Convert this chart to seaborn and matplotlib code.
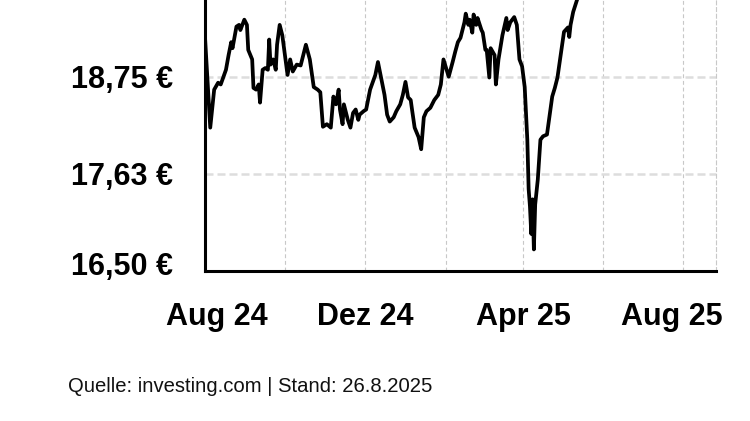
import pandas as pd
import seaborn as sns
import matplotlib.pyplot as plt
import matplotlib.transforms as mtransforms

# price history (EUR)
dates = [
    "2024-08-01", "2024-08-05", "2024-08-08", "2024-08-11", "2024-08-13", "2024-08-17",
    "2024-08-19", "2024-08-21", "2024-08-22", "2024-08-25", "2024-08-27", "2024-08-28",
    "2024-08-31", "2024-09-02", "2024-09-03", "2024-09-06", "2024-09-07", "2024-09-09",
    "2024-09-11", "2024-09-12", "2024-09-14", "2024-09-16", "2024-09-18", "2024-09-19",
    "2024-09-20", "2024-09-22", "2024-09-24", "2024-09-25", "2024-09-27", "2024-09-29",
    "2024-10-01", "2024-10-03", "2024-10-05", "2024-10-07", "2024-10-10", "2024-10-13",
    "2024-10-17", "2024-10-20", "2024-10-23", "2024-10-26", "2024-10-28", "2024-10-30",
    "2024-11-02", "2024-11-05", "2024-11-07", "2024-11-09", "2024-11-11", "2024-11-12",
    "2024-11-14", "2024-11-15", "2024-11-17", "2024-11-18", "2024-11-20", "2024-11-22",
    "2024-11-24", "2024-11-26", "2024-11-27", "2024-11-30", "2024-12-02", "2024-12-05",
    "2024-12-09", "2024-12-11", "2024-12-14", "2024-12-16", "2024-12-18", "2024-12-20",
    "2024-12-23", "2024-12-25", "2024-12-28", "2024-12-30", "2025-01-01", "2025-01-03",
    "2025-01-05", "2025-01-06", "2025-01-08", "2025-01-11", "2025-01-13", "2025-01-15",
    "2025-01-17", "2025-01-20", "2025-01-23", "2025-01-26", "2025-01-28", "2025-01-30",
    "2025-02-01", "2025-02-03", "2025-02-06", "2025-02-08", "2025-02-10", "2025-02-12",
    "2025-02-15", "2025-02-16", "2025-02-18", "2025-02-19", "2025-02-21", "2025-02-22",
    "2025-02-24", "2025-02-25", "2025-02-28", "2025-03-01", "2025-03-03", "2025-03-04",
    "2025-03-06", "2025-03-07", "2025-03-10", "2025-03-11", "2025-03-13", "2025-03-16",
    "2025-03-19", "2025-03-20", "2025-03-22", "2025-03-25", "2025-03-27", "2025-03-29",
    "2025-03-31", "2025-04-02", "2025-04-04", "2025-04-05", "2025-04-06", "2025-04-07",
    "2025-04-08", "2025-04-09", "2025-04-10", "2025-04-12", "2025-04-14", "2025-04-16",
    "2025-04-19", "2025-04-23", "2025-04-25", "2025-04-27", "2025-04-30", "2025-05-02",
    "2025-05-05", "2025-05-06", "2025-05-07", "2025-05-09", "2025-05-12", "2025-05-16",
    "2025-06-02", "2025-07-01", "2025-08-01", "2025-08-26",
]
prices = [
    19.21, 18.16, 18.60, 18.68, 18.66, 18.83,
    19.00, 19.15, 19.08, 19.33, 19.35, 19.29,
    19.41, 19.35, 19.06, 18.95, 18.62, 18.60,
    18.66, 18.45, 18.83, 18.85, 18.83, 19.18,
    18.89, 18.95, 18.83, 19.12, 19.35, 19.23,
    19.00, 18.77, 18.95, 18.81, 18.89, 18.88,
    19.12, 18.95, 18.63, 18.60, 18.57, 18.17,
    18.20, 18.16, 18.52, 18.43, 18.60, 18.37,
    18.20, 18.43, 18.31, 18.25, 18.16, 18.33,
    18.37, 18.25, 18.31, 18.35, 18.37, 18.60,
    18.77, 18.92, 18.69, 18.54, 18.31, 18.23,
    18.28, 18.35, 18.43, 18.54, 18.69, 18.51,
    18.48, 18.37, 18.16, 18.05, 17.91, 18.28,
    18.35, 18.39, 18.48, 18.54, 18.66, 18.95,
    18.85, 18.75, 18.92, 19.04, 19.15, 19.20,
    19.38, 19.48, 19.35, 19.41, 19.26, 19.47,
    19.35, 19.43, 19.29, 19.26, 19.06, 19.06,
    18.74, 19.08, 19.00, 18.66, 18.95, 19.23,
    19.43, 19.29, 19.38, 19.44, 19.35, 18.95,
    18.87, 18.63, 18.02, 17.45, 17.25, 16.93,
    17.33, 16.75, 17.27, 17.56, 18.02, 18.06,
    18.08, 18.52, 18.62, 18.74, 19.06, 19.27,
    19.32, 19.21, 19.35, 19.50, 19.64, 19.90,
    20.30, 20.60, 20.90, 21.00,
]

y_ticks = [16.5, 17.625, 18.75]
y_labels = ["16,50 €", "17,63 €", "18,75 €"]
x_ticks = ["2024-08-01", "2024-12-01", "2025-04-01", "2025-08-01"]
x_labels = ["Aug 24", "Dez 24", "Apr 25", "Aug 25"]
x_minor = ["2024-10-01", "2025-02-01", "2025-06-01"]

df = pd.DataFrame({"date": pd.to_datetime(dates), "price": prices})

sns.set_style("white")
plt.rcParams["font.family"] = ["Liberation Sans", "DejaVu Sans"]

fig = plt.figure(figsize=(7.5, 4.21), dpi=100)
ax = fig.add_axes([205 / 750, 150 / 421, 511 / 750, 271 / 421])

sns.lineplot(data=df, x="date", y="price", ax=ax, color="black", linewidth=2.7)

ax.set_xlim(pd.Timestamp("2024-08-01"), pd.Timestamp("2025-08-26"))
ax.set_ylim(16.5, 19.638)

ax.set_yticks(y_ticks)
ax.set_yticklabels(y_labels, fontsize=22, fontweight="bold")
ax.set_xticks(pd.to_datetime(x_ticks))
ax.set_xticklabels(x_labels, fontsize=22, fontweight="bold")
ax.set_xticks(pd.to_datetime(x_minor), minor=True)

ax.tick_params(axis="both", which="major", direction="in", length=6.5, width=2.2,
               color="black", labelcolor="black")
ax.tick_params(axis="y", pad=23)
ax.tick_params(axis="x", pad=22)
ax.tick_params(axis="x", which="minor", length=0)

ax.grid(axis="y", which="major", color="#dddddd", linestyle=(0, (3.2, 1.6)), linewidth=1.8)
ax.grid(axis="x", which="both", color="#c8c8c8", linestyle=(0, (3.5, 2.5)), linewidth=0.8)
ax.set_axisbelow(True)

ax.set_xlabel("")
ax.set_ylabel("")

ax.spines["top"].set_visible(False)
for side in ["left", "bottom"]:
    ax.spines[side].set_linewidth(2.2)
    ax.spines[side].set_color("black")
ax.spines["right"].set_color("#c8c8c8")
ax.spines["right"].set_linewidth(0.8)
ax.spines["right"].set_linestyle((0, (3.5, 2.5)))

# nudge edge labels inward like the original
ylab = ax.get_yticklabels()
ylab[0].set_transform(ylab[0].get_transform()
                      + mtransforms.ScaledTranslation(0, 8 / 100, fig.dpi_scale_trans))
xlab = ax.get_xticklabels()
xlab[0].set_transform(xlab[0].get_transform()
                      + mtransforms.ScaledTranslation(12 / 100, 0, fig.dpi_scale_trans))
xlab[-1].set_transform(xlab[-1].get_transform()
                       + mtransforms.ScaledTranslation(-11 / 100, 0, fig.dpi_scale_trans))

fig.text(68 / 750, 1 - 386 / 421, "Quelle: investing.com | Stand: 26.8.2025",
         fontsize=14.6, color="#111111", ha="left", va="center")

fig.savefig("out.png", dpi=100)
